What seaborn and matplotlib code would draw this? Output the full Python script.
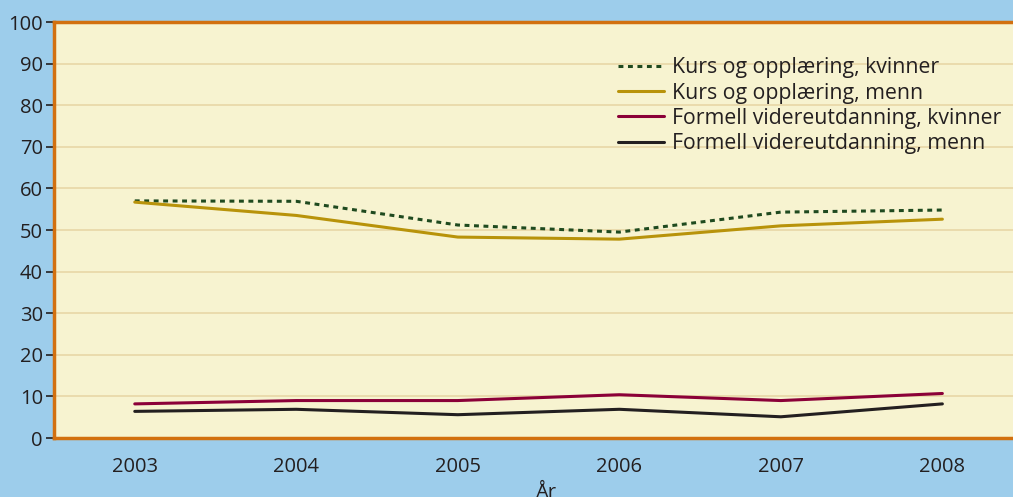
import seaborn as sns
import matplotlib.pyplot as plt
import pandas as pd

# Data
years = [2003, 2004, 2005, 2006, 2007, 2008]
kurs_kvinner = [57.0, 56.9, 51.2, 49.5, 54.3, 54.8]
kurs_menn = [56.7, 53.5, 48.3, 47.8, 51.0, 52.6]
formell_kvinner = [8.2, 9.0, 9.0, 10.4, 9.0, 10.7]
formell_menn = [6.4, 6.9, 5.6, 6.9, 5.1, 8.2]

series_names = [
    "Kurs og opplæring, kvinner",
    "Kurs og opplæring, menn",
    "Formell videreutdanning, kvinner",
    "Formell videreutdanning, menn",
]
colors = ["#1f4a1f", "#b8930a", "#8b0038", "#231f20"]

df = pd.DataFrame({
    "År": years * 4,
    "verdi": kurs_kvinner + kurs_menn + formell_kvinner + formell_menn,
    "serie": sum([[n] * len(years) for n in series_names], []),
})

sns.set_style("white")
plt.rcParams["font.family"] = ["Open Sans", "DejaVu Sans"]

fig = plt.figure(figsize=(10.13, 4.97), dpi=100)
fig.patch.set_facecolor("#9dcdeb")
ax = fig.add_axes([54 / 1013, 1 - 438 / 497, 1 - 54 / 1013 + 0.01, 416 / 497])
ax.set_facecolor("#f7f3d0")

sns.lineplot(
    data=df, x="År", y="verdi", hue="serie", style="serie",
    hue_order=series_names, style_order=series_names,
    palette=colors, dashes=[(1.6, 1.5), "", "", ""],
    linewidth=2.2, ax=ax,
)

ax.set_ylim(0, 100)
ax.set_xlim(2002.5, 2008.5)
ax.set_yticks(range(0, 101, 10))
ax.set_xticks(years)
ax.set_ylabel("")
ax.set_xlabel("År", fontsize=14.5, color="#231f20")
ax.xaxis.set_label_coords(0.507, -0.107, transform=ax.transAxes)
ax.xaxis.label.set_verticalalignment("top")

for y in range(10, 100, 10):
    ax.axhline(y, color="#e8d7a6", linewidth=1.2, zorder=0)

for side in ["left", "bottom", "top"]:
    ax.spines[side].set_color("#d2700f")
    ax.spines[side].set_linewidth(2.5)
ax.spines["right"].set_visible(False)

ax.tick_params(axis="y", left=True, length=6, width=1.2, color="#231f20",
               labelsize=14.5, labelcolor="#231f20", pad=2)
ax.tick_params(axis="x", bottom=False, labelsize=14.5, labelcolor="#231f20", pad=10)

leg = ax.legend(
    loc="upper left", bbox_to_anchor=(558 / 959, 0.915), frameon=False,
    fontsize=15.3, handlelength=2.15, handletextpad=0.4, labelspacing=0.2,
    borderaxespad=0, borderpad=0,
)
for line in leg.get_lines():
    line.set_linewidth(2.2)
for t in leg.get_texts():
    t.set_color("#231f20")

fig.savefig("out.png", dpi=100, facecolor=fig.get_facecolor())
